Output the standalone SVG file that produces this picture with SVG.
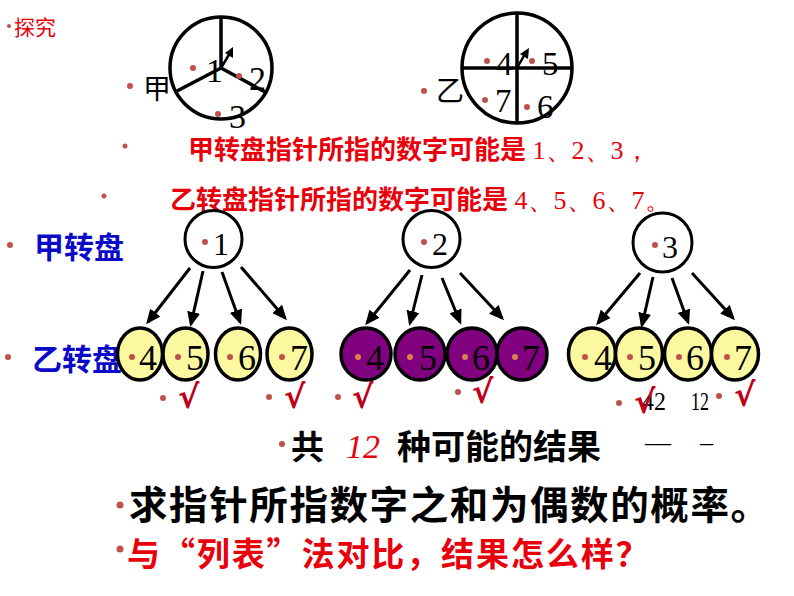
<svg xmlns="http://www.w3.org/2000/svg" width="794" height="596" viewBox="0 0 794 596">
<style>
.cjk{font-family:"Noto Sans CJK SC","Noto Sans",sans-serif}
.num{font-family:"Liberation Serif","Times New Roman",serif;fill:#000}
.dot{fill:#C0504D}
.dotp{fill:#D8824A}
.red{fill:#E8000B}
.blue{fill:#0A0AC8;font-weight:bold}
.sp{fill:none;stroke:#000;stroke-width:3.5}
.yel{fill:#FCF8A0;stroke:#000;stroke-width:3.5}
.pur{fill:#800080;stroke:#000;stroke-width:3.5}
.top{fill:#fff;stroke:#000;stroke-width:3}
.arr{stroke:#000;stroke-width:3;fill:none;marker-end:url(#ah)}
.chk{font-family:"DejaVu Sans","Liberation Serif",serif;fill:#C00018;font-size:32px;font-weight:bold}
</style>
<defs>
<marker id="ah" markerUnits="userSpaceOnUse" markerWidth="15" markerHeight="13" refX="12" refY="6.5" orient="auto">
<path d="M0,0 L15,6.5 L0,13 z" fill="#000"/>
</marker>
</defs>
<rect width="794" height="596" fill="#fff"/>

<g id="title">
<circle class="dot" cx="9" cy="26" r="2"/>
<text class="cjk red" x="14" y="35" font-size="21">探究</text>
</g>

<g id="spinner-jia">
<circle class="sp" cx="221" cy="68" r="51"/>
<line class="sp" x1="221" y1="68" x2="221" y2="17"/>
<line class="sp" x1="221" y1="68" x2="177" y2="91"/>
<line class="sp" x1="221" y1="68" x2="265" y2="92"/>
<line x1="221" y1="68" x2="230" y2="53" stroke="#000" stroke-width="2.5"/>
<path d="M233,47 L233,58 L225,53 z" fill="#000"/>
<circle class="dot" cx="193" cy="68" r="3"/>
<text class="num" x="206" y="82" font-size="34">1</text>
<circle class="dot" cx="239" cy="76" r="3"/>
<text class="num" x="249" y="90" font-size="34">2</text>
<circle class="dot" cx="218" cy="114" r="3"/>
<text class="num" x="229" y="128" font-size="34">3</text>
<circle class="dot" cx="130" cy="86" r="3"/>
<text class="cjk" x="143" y="99" font-size="28">甲</text>
</g>

<g id="spinner-yi">
<circle class="sp" cx="517" cy="68" r="55"/>
<line class="sp" x1="517" y1="13" x2="517" y2="123"/>
<line class="sp" x1="462" y1="68" x2="572" y2="68"/>
<line x1="517" y1="68" x2="525" y2="54" stroke="#000" stroke-width="2.5"/>
<path d="M529,48 L528,59 L520,54 z" fill="#000"/>
<circle class="dot" cx="487" cy="61" r="3"/>
<text class="num" x="496" y="75" font-size="33">4</text>
<circle class="dot" cx="532" cy="61" r="3"/>
<text class="num" x="542" y="75" font-size="33">5</text>
<circle class="dot" cx="485" cy="100" r="3"/>
<text class="num" x="495" y="112" font-size="33">7</text>
<circle class="dot" cx="527" cy="107" r="3"/>
<text class="num" x="537" y="118" font-size="33">6</text>
<circle class="dot" cx="424" cy="91" r="3"/>
<text class="cjk" x="436" y="101" font-size="28">乙</text>
</g>

<g id="statements">
<circle class="dot" cx="125" cy="146" r="2.5"/>
<text x="188" y="159" font-size="26" class="red"><tspan class="cjk" font-weight="bold">甲转盘指针所指的数字可能是</tspan><tspan font-family="Liberation Serif,serif"> 1、2、3，</tspan></text>
<circle class="dot" cx="104" cy="196" r="2.5"/>
<text x="170" y="209" font-size="26" class="red"><tspan class="cjk" font-weight="bold">乙转盘指针所指的数字可能是</tspan><tspan font-family="Liberation Serif,serif"> 4、5、6、7。</tspan></text>
</g>

<g id="label-jia">
<circle class="dot" cx="10" cy="245" r="3"/>
<text class="cjk blue" x="34" y="258" font-size="30">甲转盘</text>
</g>
<g id="label-yi">
<circle class="dot" cx="8" cy="357" r="3"/>
<text class="cjk blue" x="32" y="370" font-size="30">乙转盘</text>
</g>

<g id="connectors">
<line class="arr" x1="190" y1="268" x2="148" y2="322"/>
<line class="arr" x1="203" y1="271" x2="191" y2="324"/>
<line class="arr" x1="222" y1="272" x2="240" y2="322"/>
<line class="arr" x1="241" y1="267" x2="285" y2="318"/>
<line class="arr" x1="410" y1="270" x2="367" y2="323"/>
<line class="arr" x1="422" y1="275" x2="410" y2="323"/>
<line class="arr" x1="442" y1="278" x2="460" y2="322"/>
<line class="arr" x1="460" y1="273" x2="502" y2="318"/>
<line class="arr" x1="640" y1="273" x2="598" y2="323"/>
<line class="arr" x1="653" y1="277" x2="642" y2="325"/>
<line class="arr" x1="672" y1="278" x2="688" y2="322"/>
<line class="arr" x1="692" y1="273" x2="733" y2="318"/>
</g>

<g id="node-1">
<circle class="top" cx="213.5" cy="239" r="28.5"/>
<circle class="dot" cx="205" cy="242" r="3"/>
<text class="num" x="213" y="255" font-size="32">1</text>
</g>
<g id="node-2">
<circle class="top" cx="431.5" cy="239" r="28.5"/>
<circle class="dot" cx="424" cy="242" r="3"/>
<text class="num" x="432" y="255" font-size="32">2</text>
</g>
<g id="node-3">
<circle class="top" cx="662.5" cy="242.5" r="29.5"/>
<circle class="dot" cx="655" cy="245" r="3"/>
<text class="num" x="662" y="258" font-size="32">3</text>
</g>

<g id="node-a4"><ellipse class="yel" cx="140" cy="354" rx="22.5" ry="26"/><circle class="dot" cx="132" cy="357" r="3"/><text class="num" x="139" y="370" font-size="36">4</text></g>
<g id="node-a5"><ellipse class="yel" cx="185.5" cy="354" rx="22.5" ry="26"/><circle class="dot" cx="178" cy="357" r="3"/><text class="num" x="186" y="370" font-size="36">5</text></g>
<g id="node-a6"><ellipse class="yel" cx="238" cy="354" rx="22.5" ry="26"/><circle class="dot" cx="230" cy="357" r="3"/><text class="num" x="238" y="370" font-size="36">6</text></g>
<g id="node-a7"><ellipse class="yel" cx="289.5" cy="354" rx="22.5" ry="26"/><circle class="dot" cx="282" cy="357" r="3"/><text class="num" x="290" y="370" font-size="36">7</text></g>

<g id="node-b4"><ellipse class="pur" cx="366" cy="354" rx="25" ry="26"/><circle class="dotp" cx="358" cy="357" r="3"/><text class="num" x="366" y="370" font-size="36">4</text></g>
<g id="node-b5"><ellipse class="pur" cx="420" cy="354" rx="25" ry="26"/><circle class="dotp" cx="410" cy="357" r="3"/><text class="num" x="419" y="370" font-size="36">5</text></g>
<g id="node-b6"><ellipse class="pur" cx="472" cy="354" rx="25" ry="26"/><circle class="dotp" cx="465" cy="357" r="3"/><text class="num" x="472" y="370" font-size="36">6</text></g>
<g id="node-b7"><ellipse class="pur" cx="522" cy="354" rx="25" ry="26"/><circle class="dotp" cx="515" cy="357" r="3"/><text class="num" x="522" y="370" font-size="36">7</text></g>

<g id="node-c4"><ellipse class="yel" cx="592" cy="354" rx="23.5" ry="26"/><circle class="dot" cx="585" cy="357" r="3"/><text class="num" x="594" y="370" font-size="36">4</text></g>
<g id="node-c5"><ellipse class="yel" cx="639" cy="354" rx="23.5" ry="26"/><circle class="dot" cx="630" cy="357" r="3"/><text class="num" x="638" y="370" font-size="36">5</text></g>
<g id="node-c6"><ellipse class="yel" cx="688" cy="354" rx="23.5" ry="26"/><circle class="dot" cx="679" cy="357" r="3"/><text class="num" x="686" y="370" font-size="36">6</text></g>
<g id="node-c7"><ellipse class="yel" cx="735" cy="354" rx="23.5" ry="26"/><circle class="dot" cx="727" cy="357" r="3"/><text class="num" x="734" y="370" font-size="36">7</text></g>

<g id="checks">
<circle class="dot" cx="163" cy="398" r="3"/><text class="chk" x="178" y="408">√</text>
<circle class="dot" cx="269" cy="397" r="3"/><text class="chk" x="284" y="408">√</text>
<circle class="dot" cx="338" cy="397" r="3"/><text class="chk" x="352" y="408">√</text>
<circle class="dot" cx="458" cy="392" r="3"/><text class="chk" x="472" y="403">√</text>
<circle class="dot" cx="619" cy="403" r="3"/>
<text class="num" x="642" y="410" font-size="25" textLength="24" lengthAdjust="spacingAndGlyphs">42</text>
<text class="chk" x="634" y="413">√</text>
<text class="num" x="691" y="410" font-size="25" textLength="18" lengthAdjust="spacingAndGlyphs">12</text>
<circle class="dot" cx="719" cy="396" r="3"/><text class="chk" x="734" y="406">√</text>
</g>

<g id="result">
<circle class="dot" cx="282" cy="444" r="3"/>
<text class="cjk" x="291" y="459" font-size="33" font-weight="bold">共</text>
<text x="346" y="458" font-size="34" font-family="Liberation Serif,serif" font-style="italic" fill="#E8000B">12</text>
<text class="cjk" x="397" y="459" font-size="34" font-weight="bold">种可能的结果</text>
<text class="num" x="645" y="451" font-size="26">—</text>
<text class="num" x="700" y="451" font-size="26">–</text>
</g>

<g id="question">
<circle class="dot" cx="120" cy="505" r="3.5"/>
<text class="cjk" x="129" y="519" font-size="38.5" font-weight="bold" letter-spacing="1.6">求指针所指数字之和为偶数的概率。</text>
<circle class="dot" cx="120" cy="549" r="3.5"/>
<text class="cjk red" x="127" y="566" font-size="33" font-weight="bold" letter-spacing="1.9">与“列表”法对比，结果怎么样？</text>
</g>
</svg>
